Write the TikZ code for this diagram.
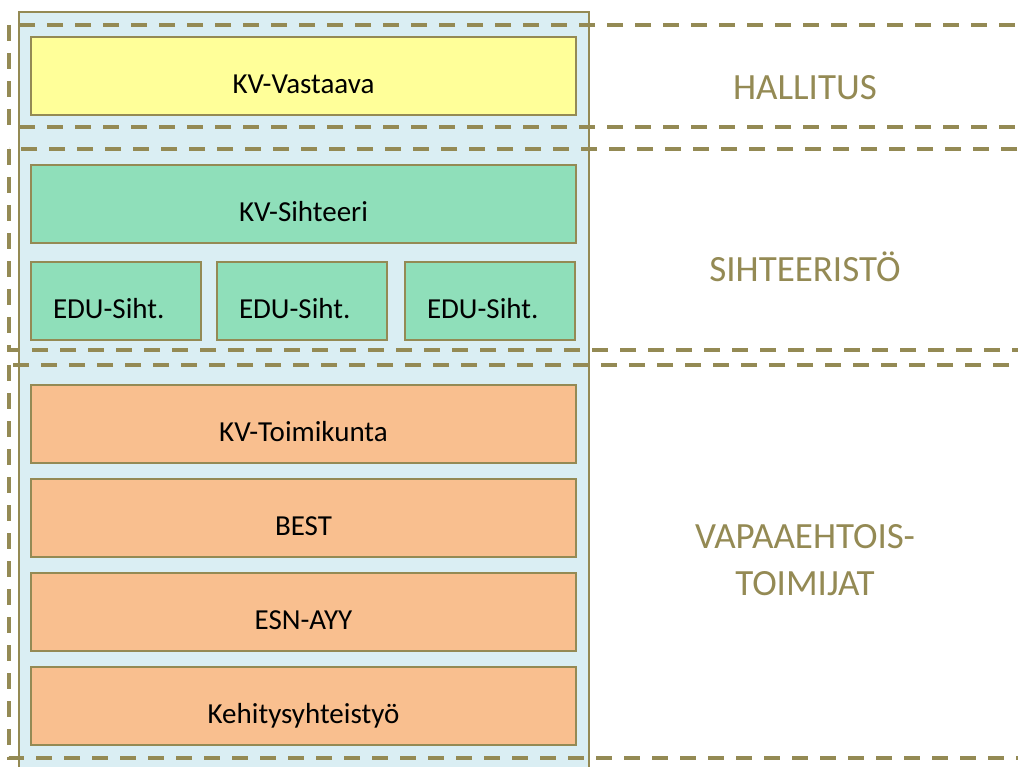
\documentclass[tikz,border=0pt]{standalone}
\usepackage{fontspec}
\setmainfont{Carlito}
\usetikzlibrary{positioning}

\definecolor{olive}{HTML}{948A54}
\definecolor{paleblue}{HTML}{DAEEF3}
\definecolor{kvyellow}{HTML}{FFFF99}
\definecolor{kvgreen}{HTML}{8FDFBA}
\definecolor{kvorange}{HTML}{F9BF8F}

\begin{document}
\begin{tikzpicture}[x=1pt, y=-1pt,
   box/.style = {draw=olive, line width=2pt, outer sep=0pt,
      minimum width=545pt, minimum height=78pt,
      text height=35pt, text depth=0pt,
      font=\fontsize{29}{35}\selectfont},
   edubox/.style = {box, minimum width=170pt, text width=126pt, align=left},
   region/.style = {draw=olive, line width=4pt, dash pattern=on 16pt off 12pt},
   lab/.style = {text=olive, align=center, font=\fontsize{37}{47}\selectfont}]
   \clip (0,0) rectangle (1018,767);
   \fill[white] (0,0) rectangle (1018,767);
   % background column
   \draw[draw=olive, line width=2pt, fill=paleblue] (19,12) rectangle (589,800);

   \node[box, fill=kvyellow] (vastaava) at (303.5,76.5) {KV-Vastaava};
   %
   \node[box, fill=kvgreen] (sihteeri) at (303.5,204) {KV-Sihteeri};
   \node[edubox, fill=kvgreen] (edu1) at (116,301) {EDU-Siht.};
   \node[edubox, fill=kvgreen] (edu2) at (302,301) {EDU-Siht.};
   \node[edubox, fill=kvgreen] (edu3) at (490,301) {EDU-Siht.};
   %
   \node[box, fill=kvorange] (toimikunta) at (303.5,424) {KV-Toimikunta};
   \node[box, fill=kvorange, below=16pt of toimikunta] (best) {BEST};
   \node[box, fill=kvorange, below=16pt of best] (esn) {ESN-AYY};
   \node[box, fill=kvorange, below=16pt of esn] (kehitys) {Kehitysyhteistyö};

   % levels
   \draw[region] (9,25) rectangle (1040,127);
   \draw[region] (9,149) rectangle (1040,350);
   \draw[region] (9,365) rectangle (1040,758);

   \node[lab, text height=24pt, text depth=0pt] (hallitus) at (805,87.5) {HALLITUS};
   \node[lab, text height=24pt, text depth=0pt] (sihteeristo) at (805,270) {SIHTEERISTÖ};
   \node[lab] (vapaa) at (805,560) {VAPAAEHTOIS-\\TOIMIJAT};
\end{tikzpicture}
\end{document}
